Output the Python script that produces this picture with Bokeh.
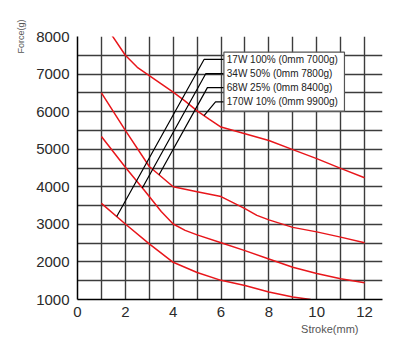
import numpy as np
from bokeh.plotting import figure
from bokeh.models import FixedTicker, Title
from bokeh.core.properties import value
from bokeh.embed import file_html
from bokeh.resources import INLINE

# ---- data ----
curve_a_x = [1.42, 2, 2.5, 3, 3.5, 4, 4.5, 5, 5.5, 6, 7, 8, 9, 10, 11, 12]
curve_a_y = [8050, 7500, 7180, 6960, 6740, 6520, 6280, 6020, 5800, 5590, 5410, 5230, 4990, 4750, 4490, 4240]

curve_b_x = [1, 2, 3, 4, 5, 6, 7, 7.5, 8, 9, 10, 11, 12]
curve_b_y = [6500, 5500, 4540, 4000, 3870, 3740, 3420, 3240, 3120, 2920, 2800, 2660, 2510]

curve_c_x = [1, 2, 2.8, 3.5, 4, 4.5, 5, 6, 7, 8, 9, 10, 11, 12]
curve_c_y = [5340, 4520, 3900, 3340, 3010, 2840, 2720, 2510, 2300, 2080, 1860, 1690, 1550, 1445]

curve_d_x = [1, 2, 3, 4, 5, 6, 7, 8, 9, 9.75]
curve_d_y = [3560, 3010, 2480, 1990, 1720, 1510, 1375, 1200, 1065, 1000]

legend_labels = ["17W 100%  (0mm 7000g)", "34W 50%  (0mm 7800g)",
                 "68W 25%  (0mm 8400g)", "170W 10%  (0mm 9900g)"]
# stroke on each pointed curve where the leader line ends
leader_stroke = [1.64, 2.71, 3.41, 5.29]

x_ticks = [0, 2, 4, 6, 8, 10, 12]
y_ticks = [1000, 2000, 3000, 4000, 5000, 6000, 7000, 8000]

# ---- layout constants ----
legend_rows = [7390, 7010, 6640, 6260]
stub_x = [5.29, 5.36, 5.43, 5.77]
box_left, box_right, box_bottom, box_top = 6.12, 11.16, 6012, 7582

p = figure(width=398, height=351, x_range=(0, 12.75), y_range=(1000, 8000),
           output_backend="svg", toolbar_location=None,
           min_border_left=77, min_border_right=16, min_border_top=36, min_border_bottom=52)
p.outline_line_color = None
p.background_fill_color = "white"
p.border_fill_color = "white"

grid_col = "#3c3c3c"
p.xgrid.ticker = FixedTicker(ticks=list(range(1, 13)))
p.ygrid.ticker = FixedTicker(ticks=list(np.arange(1500, 8000, 500)))
p.xgrid.grid_line_color = grid_col
p.ygrid.grid_line_color = grid_col
p.xgrid.grid_line_width = 1.4
p.ygrid.grid_line_width = 1.4

for ax in (p.xaxis, p.yaxis):
    ax.axis_line_color = "black"
    ax.axis_line_width = 1.5
    ax.major_tick_out = 0
    ax.major_tick_in = 0
    ax.minor_tick_out = 0
    ax.minor_tick_in = 0
    ax.major_label_text_font = "Liberation Sans"
    ax.major_label_text_font_size = "15px"
    ax.major_label_text_color = "#2a2a2a"
p.xaxis.ticker = FixedTicker(ticks=x_ticks)
p.yaxis.ticker = FixedTicker(ticks=y_ticks)
p.xaxis.major_label_standoff = 7
p.yaxis.major_label_standoff = 8

p.yaxis.axis_label = "Force(g)"
p.yaxis.axis_label_align = "end"
p.yaxis.axis_label_standoff = 7
p.yaxis.axis_label_text_font = "Liberation Sans"
p.yaxis.axis_label_text_font_size = "9px"
p.yaxis.axis_label_text_font_style = "normal"
p.yaxis.axis_label_text_color = "#555555"

red = "#e8161b"
curves = [(curve_a_x, curve_a_y), (curve_b_x, curve_b_y),
          (curve_c_x, curve_c_y), (curve_d_x, curve_d_y)]
for cx, cy in curves:
    p.line(cx, cy, line_color=red, line_width=1.5)

# leader lines: label i -> curve (D, C, B, A)
targets = [curves[3], curves[2], curves[1], curves[0]]
xs, ys = [], []
for i, (cx, cy) in enumerate(targets):
    tx = leader_stroke[i]
    ty = float(np.interp(tx, cx, cy))
    xs.append([box_left, stub_x[i], tx])
    ys.append([legend_rows[i], legend_rows[i], ty])
p.multi_line(xs, ys, line_color="black", line_width=1.2)

# legend box
p.quad(left=[box_left], right=[box_right], bottom=[box_bottom], top=[box_top],
       fill_color="white", line_color="#555555", line_width=1.2)
p.text(x=[box_left + 0.12] * 4, y=legend_rows, text=legend_labels,
       text_font=value("Liberation Sans"), text_font_size="10px",
       text_color="#222222", text_baseline="middle", text_align="left")

p.add_layout(Title(text="Stroke(mm)", align="right", text_font="Liberation Sans",
                   text_font_size="11px", text_font_style="normal", text_color="#555555",
                   offset=24, standoff=2), "below")

open("out.html", "w").write(file_html(p, INLINE))
